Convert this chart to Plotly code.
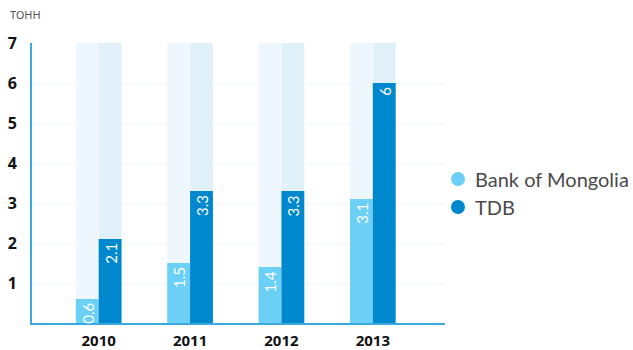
import plotly.graph_objects as go

years = ["2010", "2011", "2012", "2013"]
bank_of_mongolia = [0.6, 1.5, 1.4, 3.1]
tdb = [2.1, 3.3, 3.3, 6.0]
bg_height = [7, 7, 7, 7]
y_ticks = [1, 2, 3, 4, 5, 6, 7]
series_names = ["Bank of Mongolia", "TDB"]

C_LIGHT = "#6BCFF6"
C_DARK = "#0088CE"
BG_LIGHT = "#EEF7FD"
BG_DARK = "#E0F1FA"
W = 0.25

L, R, T, B = 32, 188, 43, 27
PW, PH = 633 - L - R, 350 - T - B

fig = go.Figure()
fig.add_trace(go.Bar(x=years, y=bg_height, offset=-W, width=W, marker_color=BG_LIGHT,
                     marker_line_width=0, showlegend=False, hoverinfo="skip"))
fig.add_trace(go.Bar(x=years, y=bg_height, offset=0, width=W, marker_color=BG_DARK,
                     marker_line_width=0, showlegend=False, hoverinfo="skip"))

annotations = []
for vals, col, off, name in [(bank_of_mongolia, C_LIGHT, -W, series_names[0]),
                             (tdb, C_DARK, 0, series_names[1])]:
    fig.add_trace(go.Bar(x=years, y=vals, offset=off, width=W, marker_color=col,
                         marker_line_width=0, name=name, showlegend=False))
    for i, v in enumerate(vals):
        annotations.append(dict(
            x=i, y=v, xref="x", yref="y", text="%g" % v, textangle=-90, showarrow=False,
            xshift=-11.5 if off < 0 else 11.5, yshift=-2, yanchor="top", xanchor="center",
            font=dict(color="white", size=15, family="Lato")))

# manual legend (circle + label)
shapes = []
for i, (name, col) in enumerate(zip(series_names, [C_LIGHT, C_DARK])):
    cy = 179 + 28 * i
    cx = 458
    r = 7
    shapes.append(dict(type="circle", xref="paper", yref="paper",
                       x0=(cx - r - L) / PW, x1=(cx + r - L) / PW,
                       y0=(350 - B - (cy + r)) / PH, y1=(350 - B - (cy - r)) / PH,
                       fillcolor=col, line_width=0))
    annotations.append(dict(text=name, xref="paper", yref="paper", showarrow=False,
                            x=(473 - L) / PW, y=(350 - B - cy) / PH, xanchor="left",
                            yanchor="middle", font=dict(size=20, color="#4a4a4a", family="Lato")))

annotations.append(dict(text="ТОНН", xref="paper", yref="paper", showarrow=False,
                        x=(8 - L) / PW, y=(350 - B - 15) / PH, xanchor="left", yanchor="middle",
                        font=dict(size=11, color="#555", family="Noto Sans")))

fig.update_layout(
    width=633, height=350, barmode="overlay",
    margin=dict(l=L, r=R, t=T, b=B, autoexpand=False),
    plot_bgcolor="white", paper_bgcolor="white", showlegend=False,
    font=dict(family="Noto Sans", color="#222"),
    xaxis=dict(type="category", range=[-0.73, 3.79], showgrid=False, showline=True,
               linecolor="#3AA9E0", linewidth=2, ticks="", automargin=False,
               ticklabelstandoff=3,
               tickfont=dict(size=15, color="#111", family="Noto Sans", weight="bold")),
    yaxis=dict(range=[0, 7], tickvals=y_ticks, showgrid=True, gridcolor="#EEF5FB",
               gridwidth=1, zeroline=False, showline=True, linecolor="#3AA9E0", linewidth=2,
               ticks="", ticklabelstandoff=10, automargin=False,
               tickfont=dict(size=16, color="#111", family="Noto Sans", weight="bold")),
    annotations=annotations, shapes=shapes,
)
fig.write_html("out.html")
